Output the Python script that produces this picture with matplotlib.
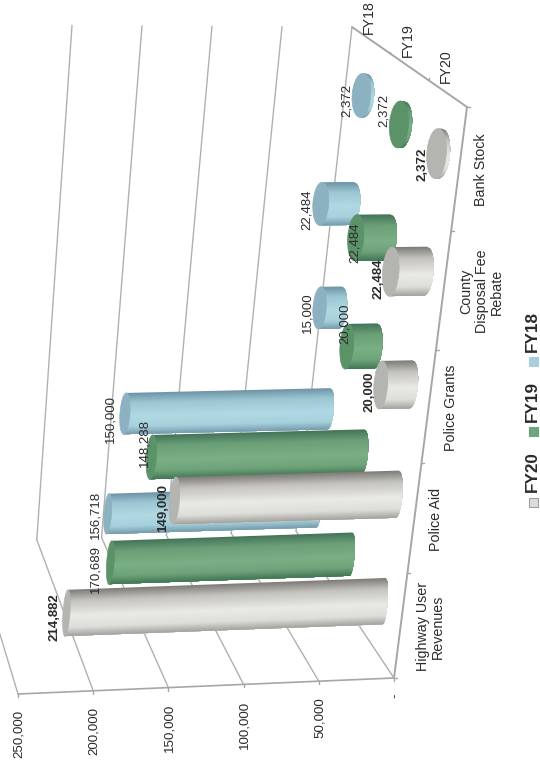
import numpy as np
import matplotlib
matplotlib.use("Agg")
import matplotlib.pyplot as plt
from matplotlib.collections import PolyCollection
from matplotlib.patches import Ellipse, Rectangle

plt.rcParams["font.family"] = ["Liberation Sans", "DejaVu Sans"]

categories = ["Highway User\nRevenues", "Police Aid", "Police Grants",
              "County\nDisposal Fee\nRebate", "Bank Stock"]
series_names = ["FY18", "FY19", "FY20"]
fy18 = [156718, 150000, 15000, 22484, 2372]
fy19 = [170689, 148288, 20000, 22484, 2372]
fy20 = [214882, 149000, 20000, 22484, 2372]
value_ticks = [0, 50000, 100000, 150000, 200000, 250000]

# floor corners in pixels: (cat, depth)
FRONT0, FRONT5 = np.array([394., 678.]), np.array([467., 107.])
BACK0, BACK5 = np.array([296., 531.]), np.array([352., 27.])
# where 250,000 lands relative to the floor, same corners
VDIR = {(0, 0): np.array([-376., 16.]), (5, 0): np.array([-400., 0.]),
        (0, 1): np.array([-324., 11.]), (5, 1): np.array([-350., -2.])}
# category ticks are not evenly spaced along the front edge
CAT_STOPS = np.array([0, 105, 215, 328, 447, 571]) / 571.


def project(v, c, d):
    s = np.interp(c, np.arange(6), CAT_STOPS)
    base = (FRONT0 + (FRONT5 - FRONT0) * s) * (1 - d) + (BACK0 + (BACK5 - BACK0) * s) * d
    vd = (VDIR[0, 0] * (1 - s) + VDIR[5, 0] * s) * (1 - d) + (VDIR[0, 1] * (1 - s) + VDIR[5, 1] * s) * d
    return base + vd * v / 250000.


def line(ax, p, q, color="#b0b0b0", lw=1.0):
    ax.plot([p[0], q[0]], [p[1], q[1]], color=color, lw=lw, solid_capstyle="round", zorder=1)


# shading from top edge to bottom edge of a cylinder
SHADES = {
    "FY20": (["#807e79", "#c4c3be", "#e9e9e5", "#dededa", "#a09f9a"], "#b4b4b0"),
    "FY19": (["#44755a", "#6a9f77", "#7bb085", "#6ea27a", "#3f7452"], "#5b9268"),
    "FY18": (["#6f95a6", "#9cc6d3", "#b0d9e3", "#a6d0dc", "#7399aa"], "#8cb2c2"),
}
BASE_COLORS = {"FY20": "#dcdcd8", "FY19": "#6da67a", "FY18": "#a8d0dc"}
SHADE_POS = [-1, -0.55, 0.1, 0.6, 1]


def hex_rgb(h):
    return np.array(matplotlib.colors.to_rgb(h))


def cylinder(ax, v, c, d, name, order):
    # bars in the middle of the run sit a little higher than the floor grid suggests
    lift = np.array([0, -3 * np.sin(np.pi * c / 5)])
    b = project(0, c, d) + lift
    t = project(v, c, d) + lift
    h = 46 + 0.9 * c - 9 * (d - 1 / 6)
    w = 7.5 + 0.004 * t[0] + 0.024 * (600 - t[1]) - 3 * d
    up = np.array([0.07, -0.997])
    stops, cap = SHADES[name]
    rgb = np.array([hex_rgb(x) for x in stops])
    s = np.linspace(1, -1, 49)
    polys, cols = [], []
    # each strip runs down to the bottom edge and the next one paints over it, no seams
    for a in s[:-1]:
        arc = np.linspace(a, -1, 24)
        r = np.sqrt(np.clip(1 - arc * arc, 0, 1))
        right = [b + up * h / 2 * q + [w / 2 * z, 0] for q, z in zip(arc, r)]
        left = [t + up * h / 2 * q + [w / 2 * z, 0] for q, z in zip(arc, r)]
        polys.append(right + left[::-1])
        cols.append([np.interp(-a, SHADE_POS, rgb[:, i]) for i in range(3)])
    ax.add_collection(PolyCollection(polys, facecolors=cols, edgecolors="none", zorder=order))
    tilt = np.degrees(np.arctan2(up[0], -up[1]))
    ax.add_patch(Ellipse(t, w, h, angle=tilt, facecolor=cap, edgecolor=cap, lw=0.5, zorder=order + 0.1))
    return t[0] - w / 2, t[1]


fig = plt.figure(figsize=(5.4, 7.65), dpi=100)
ax = fig.add_axes([0, 0, 1, 1])
ax.set_xlim(0, 540)
ax.set_ylim(765, 0)
ax.axis("off")

# floor and walls
for tick in value_ticks:
    line(ax, project(tick, 0, 0), project(tick, 0, 1))
    if tick < 250000:
        line(ax, project(tick, 0, 1), project(tick, 5, 1))
line(ax, project(0, 0, 0), project(250000, 0, 0), "#a6a6a6", 1.2)
line(ax, FRONT0, FRONT5, "#a6a6a6", 1.4)
line(ax, FRONT5, BACK5, "#a6a6a6", 1.4)

# small ticks along the edges
for tick in value_ticks:
    p = project(tick, 0, 0)
    line(ax, p, p + [0, 3], "#a6a6a6", 1.0)
for i in range(6):
    p = project(0, i, 0)
    line(ax, p, p + [3, 0], "#a6a6a6", 1.0)
for d in (1 / 3, 2 / 3):
    p = project(0, 5, d)
    line(ax, p, p + [0, -2], "#a6a6a6", 1.0)

# drawn back to front so FY20 sits over the others
cap_ends = {}
for order, (name, values, d) in enumerate([("FY18", fy18, 5 / 6), ("FY19", fy19, 1 / 2), ("FY20", fy20, 1 / 6)]):
    cap_ends[name] = [cylinder(ax, val, i + 0.5, d, name, 3 + order) for i, val in enumerate(values)]

# value labels, nudged off the cap ends
LABEL_DX = {"FY18": [-9, -9, -6, -6, -5], "FY19": [-11, -2, 5, 7, -6], "FY20": [-8, -6, -4, -4, -4]}
LABEL_DY = {"FY18": [1, 5, 5, 6, 5], "FY19": [7, -14, -23, 5, -14], "FY20": [4, 7, 7, 7, 11]}
for name, values in zip(series_names, (fy18, fy19, fy20)):
    for i, val in enumerate(values):
        x, y = cap_ends[name][i]
        ax.text(x + LABEL_DX[name][i], y + LABEL_DY[name][i], f"{val:,}", rotation=90,
                ha="center", va="center", fontsize=9.5, color="#2b2b2b", zorder=10,
                fontweight="bold" if name == "FY20" else "normal")

# value axis labels
for tick in value_ticks:
    p = project(tick, 0, 0)
    ax.text(p[0] + 1, p[1] + 16, f"{tick:,}" if tick else "-", rotation=90,
            ha="center", va="top", fontsize=9.6, color="#2b2b2b")

# category labels
for i, cat in enumerate(categories):
    p = project(0, i + 0.5, 0)
    lines = cat.count("\n") + 1
    ax.text(p[0] + 14 + 8 * lines, p[1] + 1, cat, rotation=90, ha="center", va="center",
            ma="center", fontsize=10.3, color="#2b2b2b", linespacing=1.12)

# depth axis labels
for name, d in zip(series_names, (5 / 6, 1 / 2, 1 / 6)):
    p = project(0, 5, d)
    ax.text(p[0] - 2, max(p[1] - 27, 17), name, rotation=90, ha="center", va="center",
            fontsize=10.2, color="#2b2b2b")

# legend
for name, sw_y, txt_y in [("FY20", 502, 472), ("FY19", 431, 401), ("FY18", 361, 331)]:
    edge = "#a0a0a0" if name == "FY20" else BASE_COLORS[name]
    ax.add_patch(Rectangle((528.5, sw_y - 4.5), 9, 9, facecolor=BASE_COLORS[name], edgecolor=edge, lw=0.8))
    ax.text(532, txt_y, name, rotation=90, ha="center", va="center", fontsize=12.3,
            fontweight="bold", color="#2b2b2b")

fig.savefig("out.png", dpi=100)
